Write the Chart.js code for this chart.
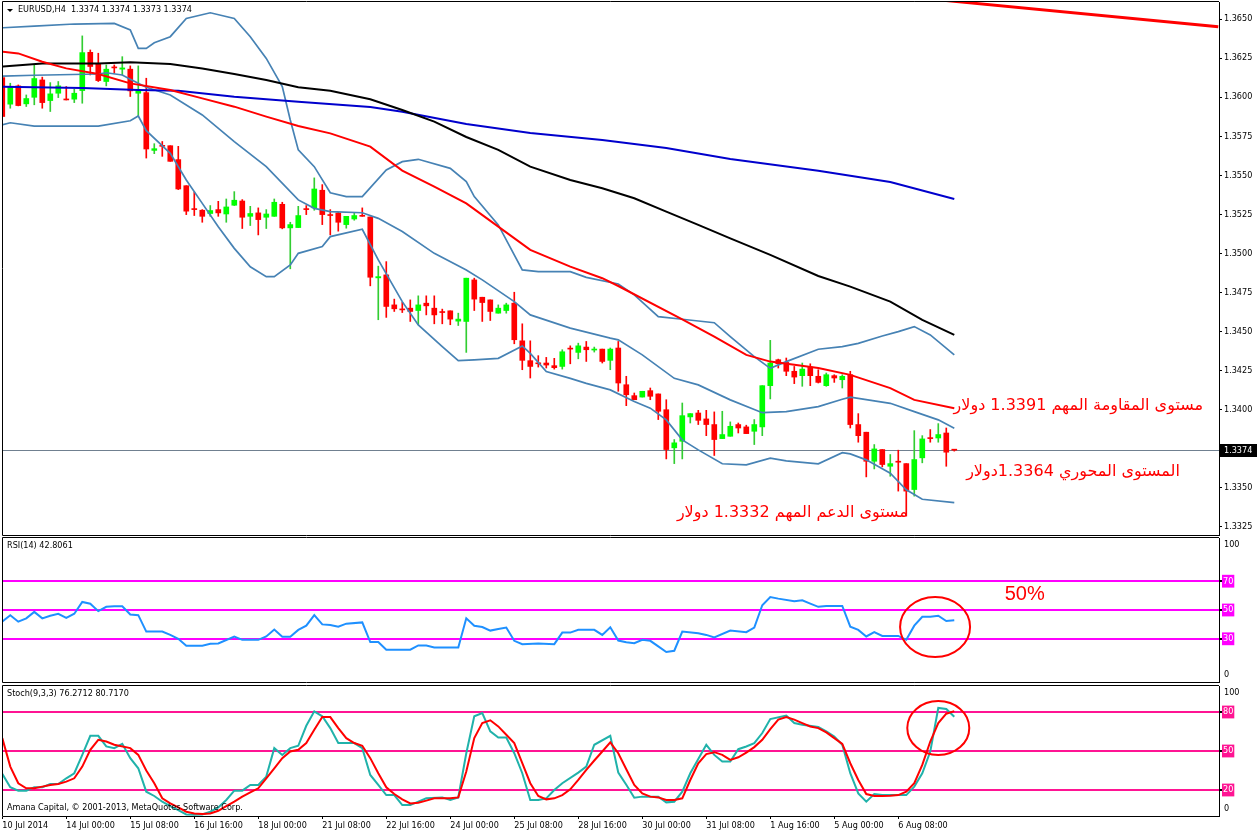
<!DOCTYPE html>
<html><head>
<meta charset="utf-8">
<title>EURUSD H4</title>
<script src="https://cdn.jsdelivr.net/npm/chart.js"></script>
<style>
body { margin: 0; background: #fff; }
#wrap { position: relative; width: 1258px; height: 835px; overflow: hidden; }
canvas { position: absolute; left: 0; }
</style>
</head>
<body>
<div id="wrap">
<canvas id="price" width="1258" height="538" style="top:0;width:1258px;height:538px"></canvas>
<canvas id="rsi" width="1258" height="148" style="top:535px;width:1258px;height:148px"></canvas>
<canvas id="stoch" width="1258" height="152" style="top:683px;width:1258px;height:152px"></canvas>
</div>
<script>
// ---- candles, bar 0 = 10 Jul 2014 16:00, H4 ----
var opens = [1.36125,1.35955,1.36072,1.35957,1.35999,1.36110,1.35978,1.36025,1.35987,1.35987,
1.36042,1.36287,1.36210,1.36100,1.36188,1.36179,1.36179,1.36025,1.36029,1.35659,
1.35689,1.35689,1.35600,1.35433,1.35282,1.35276,1.35255,1.35280,1.35252,1.35308,
1.35335,1.35237,1.35259,1.35231,1.35237,1.35314,1.35163,1.35165,1.35282,1.35291,
1.35404,1.35244,1.35259,1.35184,1.35220,1.35242,1.35233,1.34843,1.34862,1.34670,
1.34640,1.34649,1.34634,1.34681,1.34649,1.34624,1.34632,1.34566,1.34564,1.34830,
1.34719,1.34702,1.34617,1.34634,1.34681,1.34440,1.34313,1.34296,1.34298,1.34281,
1.34276,1.34389,1.34366,1.34400,1.34381,1.34387,1.34315,1.34394,1.34159,1.34089,
1.34080,1.34121,1.34100,1.33999,1.33755,1.33797,1.33953,1.33978,1.33940,1.33904,
1.33814,1.33829,1.33904,1.33889,1.33861,1.33889,1.34153,1.34319,1.34302,1.34245,
1.34217,1.34272,1.34213,1.34153,1.34217,1.34191,1.34223,1.33904,1.33855,1.33669,
1.33744,1.33637,1.33665,1.33654,1.33488,1.33691,1.33816,1.33818,1.33850,1.33740];
var highs = [1.36125,1.36089,1.36078,1.36014,1.36206,1.36128,1.36093,1.36100,1.36068,1.36051,
1.36392,1.36302,1.36281,1.36206,1.36206,1.36259,1.36200,1.36200,1.36121,1.35702,
1.35716,1.35689,1.35685,1.35433,1.35393,1.35280,1.35306,1.35333,1.35348,1.35395,
1.35344,1.35301,1.35291,1.35280,1.35348,1.35327,1.35199,1.35301,1.35306,1.35483,
1.35440,1.35280,1.35263,1.35237,1.35259,1.35291,1.35233,1.34918,1.34947,1.34707,
1.34687,1.34702,1.34728,1.34728,1.34728,1.34643,1.34632,1.34617,1.34841,1.34841,
1.34719,1.34702,1.34670,1.34681,1.34751,1.34549,1.34440,1.34345,1.34334,1.34328,
1.34383,1.34408,1.34425,1.34436,1.34400,1.34387,1.34394,1.34436,1.34213,1.34106,
1.34117,1.34138,1.34100,1.34063,1.33808,1.34042,1.33974,1.33995,1.33995,1.33985,
1.33989,1.33921,1.33914,1.33900,1.33936,1.34153,1.34443,1.34323,1.34330,1.34276,
1.34298,1.34293,1.34255,1.34234,1.34223,1.34223,1.34245,1.33974,1.33855,1.33776,
1.33744,1.33712,1.33740,1.33654,1.33865,1.33833,1.33872,1.33910,1.33882,1.33742];
var lows = [1.35876,1.35929,1.35944,1.35940,1.35951,1.35929,1.35908,1.35997,1.35982,1.35965,
1.35961,1.36142,1.36100,1.36072,1.36153,1.36142,1.36004,1.35876,1.35610,1.35638,
1.35621,1.35589,1.35408,1.35248,1.35242,1.35199,1.35237,1.35237,1.35199,1.35306,
1.35159,1.35178,1.35118,1.35159,1.35237,1.35157,1.34901,1.35165,1.35248,1.35276,
1.35184,1.35118,1.35142,1.35161,1.35212,1.35237,1.34792,1.34575,1.34590,1.34628,
1.34621,1.34564,1.34543,1.34606,1.34549,1.34549,1.34543,1.34538,1.34366,1.34634,
1.34564,1.34570,1.34617,1.34617,1.34421,1.34255,1.34202,1.34272,1.34266,1.34259,
1.34259,1.34293,1.34325,1.34308,1.34368,1.34298,1.34255,1.34117,1.34025,1.34063,
1.34080,1.34063,1.33936,1.33684,1.33654,1.33684,1.33914,1.33904,1.33833,1.33706,
1.33814,1.33829,1.33850,1.33846,1.33776,1.33833,1.34068,1.34266,1.34217,1.34166,
1.34149,1.34153,1.34170,1.34149,1.34174,1.34138,1.33882,1.33791,1.33569,1.33620,
1.33633,1.33573,1.33478,1.33318,1.33446,1.33659,1.33791,1.33791,1.33637,1.33734];
var closes = [1.35876,1.36063,1.35946,1.35991,1.36119,1.35965,1.36021,1.36072,1.35982,1.36025,
1.36285,1.36196,1.36106,1.36179,1.36187,1.36187,1.36040,1.36042,1.35668,1.35670,
1.35685,1.35589,1.35412,1.35270,1.35280,1.35237,1.35274,1.35259,1.35297,1.35340,
1.35231,1.35255,1.35216,1.35252,1.35327,1.35163,1.35184,1.35242,1.35280,1.35412,
1.35248,1.35242,1.35199,1.35237,1.35242,1.35237,1.34847,1.34851,1.34660,1.34645,
1.34638,1.34628,1.34670,1.34664,1.34606,1.34621,1.34579,1.34579,1.34841,1.34707,
1.34685,1.34628,1.34649,1.34670,1.34447,1.34315,1.34276,1.34293,1.34285,1.34268,
1.34370,1.34387,1.34408,1.34383,1.34387,1.34308,1.34387,1.34170,1.34095,1.34063,
1.34117,1.34085,1.33989,1.33744,1.33787,1.33961,1.33974,1.33931,1.33904,1.33808,
1.33840,1.33893,1.33882,1.33846,1.33904,1.34153,1.34298,1.34293,1.34245,1.34208,
1.34259,1.34217,1.34174,1.34223,1.34202,1.34213,1.33904,1.33833,1.33669,1.33748,
1.33648,1.33654,1.33663,1.33478,1.33680,1.33812,1.33814,1.33840,1.33727,1.33740];

// ---- indicator lines, [bar, value] ----
var maRed = [[0,1.36291],[2,1.36280],[5,1.36227],[8,1.36184],[12,1.36148],[16,1.36088],[21,1.36046],[25,1.35992],[29,1.35939],[33,1.35875],[37,1.35815],[41,1.35768],[46,1.35683],[50,1.35530],[54,1.35427],[58,1.35320],[62,1.35171],[66,1.35022],[71,1.34915],[75,1.34841],[77,1.34791],[85,1.34578],[89,1.34467],[93,1.34350],[96,1.34307],[102,1.34266],[106,1.34222],[111,1.34137],[114,1.34062],[119,1.34009]];
var maBlack = [[0,1.36195],[5,1.36216],[12,1.36216],[16,1.36223],[21,1.36212],[25,1.36184],[29,1.36148],[33,1.36110],[37,1.36063],[41,1.36041],[46,1.35986],[50,1.35918],[54,1.35843],[58,1.35745],[62,1.35662],[66,1.35555],[71,1.35470],[75,1.35417],[79,1.35353],[83,1.35267],[87,1.35182],[91,1.35096],[96,1.34990],[102,1.34855],[106,1.34787],[111,1.34691],[115,1.34574],[119,1.34478]];
var maBlue = [[0,1.36067],[10,1.36058],[17,1.36046],[22,1.36041],[29,1.36003],[37,1.35971],[46,1.35937],[50,1.35907],[58,1.35828],[66,1.35770],[75,1.35726],[83,1.35674],[91,1.35604],[102,1.35529],[111,1.35457],[119,1.35348]];
var bbUpper = [[0,1.36444],[4,1.36455],[9,1.36468],[14,1.36472],[16,1.36430],[17,1.36312],[18,1.36312],[19,1.36348],[21,1.36387],[23,1.36504],[26,1.36540],[29,1.36504],[31,1.36387],[33,1.36248],[35,1.36067],[36,1.35854],[37,1.35662],[39,1.35555],[41,1.35388],[43,1.35363],[45,1.35363],[48,1.35534],[50,1.35587],[52,1.35602],[56,1.35544],[58,1.35459],[59,1.35363],[62,1.35182],[65,1.34894],[67,1.34883],[71,1.34883],[73,1.34846],[77,1.34804],[79,1.34734],[82,1.34595],[85,1.34578],[89,1.34556],[91,1.34467],[94,1.34339],[96,1.34264],[98,1.34307],[102,1.34386],[105,1.34403],[107,1.34424],[110,1.34471],[112,1.34499],[114,1.34531],[116,1.34478],[119,1.34350]];
var bbMiddle = [[0,1.36135],[4,1.36140],[12,1.36148],[13,1.36156],[15,1.36142],[16,1.36114],[18,1.36063],[21,1.36014],[25,1.35886],[29,1.35715],[33,1.35555],[37,1.35342],[39,1.35288],[41,1.35267],[45,1.35260],[47,1.35224],[50,1.35140],[54,1.35000],[58,1.34894],[60,1.34830],[64,1.34691],[66,1.34606],[71,1.34521],[76,1.34457],[77,1.34446],[80,1.34350],[84,1.34200],[87,1.34158],[91,1.34062],[95,1.33980],[98,1.33987],[102,1.34019],[105,1.34066],[106,1.34079],[111,1.34040],[114,1.33987],[117,1.33934],[119,1.33880]];
var bbLower = [[0,1.35822],[1,1.35836],[4,1.35815],[12,1.35815],[16,1.35849],[17,1.35879],[18,1.35785],[21,1.35640],[23,1.35470],[25,1.35320],[27,1.35171],[29,1.35032],[31,1.34914],[33,1.34851],[34,1.34851],[36,1.34926],[37,1.35000],[40,1.35043],[41,1.35107],[45,1.35154],[47,1.34958],[50,1.34691],[52,1.34542],[55,1.34403],[57,1.34313],[59,1.34318],[62,1.34328],[65,1.34407],[66,1.34360],[68,1.34243],[71,1.34200],[73,1.34168],[76,1.34126],[79,1.34051],[81,1.34009],[83,1.33934],[85,1.33806],[87,1.33742],[90,1.33653],[93,1.33646],[96,1.33689],[98,1.33671],[102,1.33653],[105,1.33724],[106,1.33716],[108,1.33678],[111,1.33593],[113,1.33486],[115,1.33426],[119,1.33404]];
var trendLine = [[118,1.36618],[152,1.36451]];
var rsi14 = [[0,41.9],[1,46.4],[2,41.9],[3,44.2],[4,48.7],[5,44.2],[6,46.0],[7,47.4],[8,44.6],[9,47.4],[10,55.6],[11,54.4],[12,49.2],[13,52.2],[14,52.6],[15,52.6],[16,46.9],[17,46.4],[18,35.0],[20,35.0],[21,32.7],[22,30.0],[23,25.2],[25,25.2],[26,26.5],[27,26.8],[29,31.6],[30,29.3],[32,29.3],[33,31.6],[34,36.4],[35,31.4],[36,31.4],[37,36.2],[38,39.1],[39,46.4],[40,40.0],[41,39.6],[42,38.4],[43,40.5],[45,41.4],[46,27.7],[47,27.7],[48,22.4],[51,22.4],[52,25.4],[53,25.4],[54,24.0],[57,24.0],[58,44.2],[59,39.1],[60,38.2],[61,35.7],[62,36.8],[63,37.8],[64,28.6],[65,26.3],[67,26.8],[69,26.3],[70,34.3],[71,34.3],[72,36.2],[74,36.2],[75,32.7],[76,38.0],[77,28.8],[78,27.6],[79,27.0],[80,29.3],[81,28.6],[82,24.7],[83,20.8],[84,21.7],[85,35.0],[87,33.9],[88,32.7],[89,30.9],[91,35.7],[93,34.6],[94,37.8],[95,53.3],[96,59.0],[97,57.9],[99,56.0],[100,56.7],[101,54.4],[102,52.2],[103,52.8],[105,52.8],[106,38.4],[107,36.2],[108,31.6],[109,34.6],[110,32.0],[112,32.0],[113,29.3],[114,39.1],[115,45.3],[116,45.3],[117,46.0],[118,42.3],[119,42.8]];
var stochMain = [[0,32.4],[1,22.1],[2,19.5],[3,19.5],[4,22.1],[5,22.1],[6,24.6],[7,24.6],[8,29.0],[9,32.9],[10,47.0],[11,61.7],[12,61.7],[13,53.5],[14,52.2],[15,55.5],[16,44.5],[17,36.7],[18,18.7],[19,15.4],[20,11.0],[21,7.6],[22,4.6],[23,1.2],[24,1.0],[25,1.2],[26,3.3],[27,6.6],[28,12.3],[29,19.5],[30,19.5],[31,23.9],[32,23.9],[33,30.3],[34,52.2],[35,47.0],[36,52.2],[37,54.0],[38,69.4],[39,80.5],[40,76.7],[41,67.6],[42,56.1],[43,56.1],[44,56.1],[45,52.2],[46,31.6],[47,23.9],[48,16.1],[49,16.1],[50,8.4],[51,8.4],[52,11.0],[53,13.6],[55,14.3],[56,12.3],[57,14.3],[58,48.3],[59,76.7],[60,79.2],[61,65.1],[62,60.4],[63,60.4],[64,48.3],[65,32.9],[66,12.3],[67,12.3],[68,13.6],[69,20.0],[70,25.2],[72,33.4],[73,38.0],[74,54.8],[76,61.7],[77,33.4],[78,24.0],[79,14.1],[80,14.9],[82,14.9],[83,10.5],[84,11.0],[85,18.7],[86,32.9],[88,54.8],[89,47.0],[90,41.9],[91,41.9],[92,51.4],[93,53.5],[94,56.1],[95,63.8],[96,74.6],[98,77.2],[99,71.5],[100,70.2],[102,68.4],[103,65.1],[104,61.2],[105,54.8],[106,32.9],[107,17.4],[108,11.0],[109,16.9],[110,16.1],[113,16.1],[114,22.6],[115,32.9],[116,49.6],[117,83.1],[118,82.3],[119,76.3]];
var stochSignal = [[0,59.9],[1,38.0],[2,25.2],[3,21.3],[4,21.3],[5,22.6],[6,23.9],[7,24.6],[8,26.4],[9,29.0],[10,38.0],[11,50.9],[12,58.6],[13,57.3],[14,54.8],[16,52.2],[17,47.0],[18,35.0],[19,25.2],[20,13.6],[21,9.7],[22,6.6],[23,3.3],[24,2.0],[25,1.5],[26,2.0],[27,4.0],[28,7.6],[29,11.0],[30,14.9],[31,18.2],[32,21.3],[33,29.0],[34,36.7],[35,44.5],[36,49.6],[37,50.9],[38,56.1],[39,66.4],[40,76.1],[41,76.1],[42,67.6],[43,59.9],[44,56.1],[45,54.0],[46,44.5],[47,32.9],[48,22.1],[49,16.9],[50,12.8],[51,9.7],[52,10.2],[53,11.8],[54,13.6],[56,13.6],[57,14.3],[58,34.2],[59,59.9],[60,71.5],[61,73.6],[62,68.9],[63,62.5],[64,56.1],[65,40.6],[66,25.2],[67,15.4],[68,12.8],[69,13.6],[70,16.1],[71,20.5],[72,27.7],[73,35.5],[74,42.7],[75,49.6],[76,56.6],[77,48.3],[78,36.0],[79,23.9],[80,17.4],[81,14.9],[82,14.3],[83,12.3],[84,12.3],[85,13.6],[86,27.7],[87,40.6],[88,47.6],[89,49.1],[90,47.0],[91,43.2],[92,45.2],[93,48.8],[94,53.0],[95,58.6],[96,66.9],[97,74.1],[98,76.1],[99,74.1],[100,71.5],[101,68.9],[102,67.6],[103,64.3],[104,59.9],[105,55.5],[106,40.6],[107,27.7],[108,16.9],[109,15.4],[110,15.4],[111,15.6],[112,16.1],[113,18.7],[114,25.2],[115,39.3],[116,57.3],[117,71.5],[118,78.7],[119,80.7]];

// ---- axes ----
var priceTicks = [1.3325,1.3350,1.3375,1.3400,1.3425,1.3450,1.3475,1.3500,1.3525,1.3550,1.3575,1.3600,1.3625,1.3650];
var rsiLevels = [30, 50, 70];
var stochLevels = [20, 50, 80];
var timeTickBars = [0,8,16,24,32,40,48,56,64,72,80,88,96,104,112];
var timeTickLabels = ['10 Jul 2014','14 Jul 00:00','15 Jul 08:00','16 Jul 16:00','18 Jul 00:00','21 Jul 08:00','22 Jul 16:00','24 Jul 00:00','25 Jul 08:00','28 Jul 16:00','30 Jul 00:00','31 Jul 08:00','1 Aug 16:00','5 Aug 00:00','6 Aug 08:00'];
var currentPrice = 1.3374;

// ---- notes drawn on the chart: [bar, value, text] ----
var priceNotes = [
  [150.1, 1.34023, 'مستوى المقاومة المهم 1.3391 دولار'],
  [147.2, 1.33601, 'المستوى المحوري 1.3364دولار'],
  [113.2, 1.33338, 'مستوى الدعم المهم 1.3332 دولار']
];
var rsiCircle = [116.6, 38.2];
var stochCircle = [117.0, 67.7];
var rsiNote = [125.3, 61.1, '50%'];

var FONT = "'DejaVu Sans Condensed','DejaVu Sans',sans-serif";
var xMin = 0.09, xMax = 152.09;

function pts(arr) {
    return arr.map(function(p) { return {x: p[0], y: p[1]}; });
}
function candleColor(ctx) {
    var i = ctx.dataIndex;
    return closes[i] > opens[i] ? '#00ff00' : '#ff0000';
}
function wickColor(ctx) {
    var i = ctx.dataIndex;
    return closes[i] > opens[i] ? '#32cd32' : '#ff0000';
}
function lineSet(data, color, width, order) {
    return {type: 'line', data: pts(data), borderColor: color, borderWidth: width,
        pointRadius: 0, tension: 0, fill: false, order: order};
}
function hiddenX() {
    return {type: 'linear', min: xMin, max: xMax, display: false, offset: false};
}
function rightAxis(extra) {
    var s = {
        position: 'right',
        afterFit: function(scale) {
            scale.width = 39;
            scale.paddingTop = 0;
            scale.paddingBottom = 0;
        },
        grid: {drawOnChartArea: false, drawTicks: true, tickLength: 3, tickColor: '#000'},
        border: {color: '#000'},
        ticks: {color: '#000', font: {family: FONT, size: 9}, padding: 2, autoSkip: false}
    };
    for (var k in extra) s[k] = extra[k];
    return s;
}

var framePlugin = {
    id: 'frame',
    afterDraw: function(chart) {
        var a = chart.chartArea, c = chart.ctx;
        c.save();
        c.strokeStyle = '#000';
        c.lineWidth = 1;
        c.beginPath();
        c.moveTo(a.right, a.top - 0.5);
        c.lineTo(a.left - 0.5, a.top - 0.5);
        c.lineTo(a.left - 0.5, a.bottom + 0.5);
        c.lineTo(a.right, a.bottom + 0.5);
        c.stroke();
        c.restore();
    }
};

function levelAxis(levels, color) {
    return rightAxis({
        min: 0, max: 100,
        afterBuildTicks: function(scale) { scale.ticks = levels.map(function(v) { return {value: v}; }); },
        grid: {drawOnChartArea: true, drawTicks: true, tickLength: 3, tickColor: '#000',
            color: color, lineWidth: 2},
        ticks: {color: '#fff', font: {family: FONT, size: 9}, padding: 1, autoSkip: false,
            showLabelBackdrop: true, backdropColor: color, backdropPadding: {x: 1, y: 1}}
    });
}

function subLabels(chart, title, extra) {
    var c = chart.ctx, a = chart.chartArea, y = chart.scales.y;
    c.save();
    c.font = '9px ' + FONT;
    c.fillStyle = '#000';
    c.textBaseline = 'middle';
    c.textAlign = 'left';
    c.fillText(title, 7, a.top + 8);
    c.fillText('100', a.right + 5, y.getPixelForValue(100) + 7);
    c.fillText('0', a.right + 5, y.getPixelForValue(0) - 7);
    if (extra) extra(c, a);
    c.restore();
}
function ellipseAt(chart, spot, rx, ry) {
    var c = chart.ctx;
    var cx = chart.scales.x.getPixelForValue(spot[0]);
    var cy = chart.scales.y.getPixelForValue(spot[1]);
    c.save();
    c.strokeStyle = '#ff0000';
    c.lineWidth = 2;
    c.beginPath();
    c.ellipse(cx, cy, rx, ry, 0, 0, Math.PI * 2);
    c.stroke();
    c.restore();
}

// ---------- price window ----------
var pricePlugin = {
    id: 'priceExtras',
    beforeDatasetsDraw: function(chart) {
        var c = chart.ctx, a = chart.chartArea;
        var y = Math.round(chart.scales.y.getPixelForValue(currentPrice)) + 0.5;
        c.save();
        c.strokeStyle = '#708090';
        c.lineWidth = 1;
        c.beginPath();
        c.moveTo(a.left, y);
        c.lineTo(a.right, y);
        c.stroke();
        c.restore();
    },
    afterDraw: function(chart) {
        var c = chart.ctx, a = chart.chartArea, xs = chart.scales.x, ys = chart.scales.y;
        c.save();
        // title
        c.fillStyle = '#000';
        c.beginPath();
        c.moveTo(7, 9); c.lineTo(13, 9); c.lineTo(10, 12); c.closePath();
        c.fill();
        c.font = '9px ' + FONT;
        c.textBaseline = 'middle';
        c.textAlign = 'left';
        c.fillText('EURUSD,H4  1.3374 1.3374 1.3373 1.3374', 18, 10);
        // current price box
        var py = Math.round(ys.getPixelForValue(currentPrice));
        c.fillStyle = '#000';
        c.fillRect(a.right + 1, py - 6, 37, 13);
        c.fillStyle = '#fff';
        c.fillText(currentPrice.toFixed(4), a.right + 5, py + 0.5);
        // notes
        c.fillStyle = '#ff0000';
        c.font = '16px "DejaVu Sans", sans-serif';
        c.direction = 'rtl';
        c.textAlign = 'right';
        priceNotes.forEach(function(n) {
            c.fillText(n[2], xs.getPixelForValue(n[0]), ys.getPixelForValue(n[1]));
        });
        c.restore();
    }
};

new Chart(document.getElementById('price'), {
    type: 'bar',
    data: {
        datasets: [
            lineSet(trendLine, '#ff0000', 3, 0),
            lineSet(maRed, '#ff0000', 2, 1),
            lineSet(maBlack, '#000000', 2, 1),
            lineSet(maBlue, '#0000cd', 2, 1),
            lineSet(bbUpper, '#4682b4', 1.7, 2),
            lineSet(bbMiddle, '#4682b4', 1.7, 2),
            lineSet(bbLower, '#4682b4', 1.7, 2),
            {
                type: 'bar', order: 5, grouped: false, barThickness: 5, minBarLength: 1,
                data: opens.map(function(o, i) { return {x: i, y: [o, closes[i]]}; }),
                backgroundColor: candleColor, borderWidth: 0
            },
            {
                type: 'bar', order: 6, grouped: false, barThickness: 1, minBarLength: 1,
                data: opens.map(function(o, i) { return {x: i, y: [lows[i], highs[i]]}; }),
                backgroundColor: wickColor, borderWidth: 0
            }
        ]
    },
    options: {
        responsive: false, animation: false, devicePixelRatio: 1,
        layout: {padding: {left: 3, top: 2, right: 0, bottom: 3}},
        plugins: {legend: {display: false}, tooltip: {enabled: false}},
        scales: {
            x: hiddenX(),
            y: rightAxis({
                min: 1.33197, max: 1.36609,
                afterBuildTicks: function(scale) { scale.ticks = priceTicks.map(function(v) { return {value: v}; }); },
                ticks: {color: '#000', font: {family: FONT, size: 9}, padding: 2, autoSkip: false,
                    callback: function(v) { return Number(v).toFixed(4); }}
            })
        }
    },
    plugins: [framePlugin, pricePlugin]
});

// ---------- RSI window ----------
new Chart(document.getElementById('rsi'), {
    type: 'line',
    data: {datasets: [lineSet(rsi14, '#1e90ff', 2, 0)]},
    options: {
        responsive: false, animation: false, devicePixelRatio: 1,
        layout: {padding: {left: 3, top: 3, right: 0, bottom: 1}},
        plugins: {legend: {display: false}, tooltip: {enabled: false}},
        scales: {x: hiddenX(), y: levelAxis(rsiLevels, '#ff00ff')}
    },
    plugins: [framePlugin, {
        id: 'rsiExtras',
        afterDraw: function(chart) {
            subLabels(chart, 'RSI(14) 42.8061', function(c) {
                c.fillStyle = '#ff0000';
                c.font = '20px "Liberation Sans", Arial, sans-serif';
                c.fillText(rsiNote[2], chart.scales.x.getPixelForValue(rsiNote[0]), chart.scales.y.getPixelForValue(rsiNote[1]));
            });
            ellipseAt(chart, rsiCircle, 35, 30);
        }
    }]
});

// ---------- Stochastic window ----------
new Chart(document.getElementById('stoch'), {
    type: 'line',
    data: {datasets: [
        lineSet(stochSignal, '#ff0000', 2, 0),
        lineSet(stochMain, '#20b2aa', 2, 1)
    ]},
    options: {
        responsive: false, animation: false, devicePixelRatio: 1,
        layout: {padding: {left: 3, top: 3, right: 0, bottom: 0}},
        plugins: {legend: {display: false}, tooltip: {enabled: false}},
        scales: {
            x: {
                type: 'linear', min: xMin, max: xMax, offset: false,
                afterFit: function(scale) {
                    scale.height = 19;
                    scale.paddingLeft = 0;
                    scale.paddingRight = 0;
                },
                afterBuildTicks: function(scale) { scale.ticks = timeTickBars.map(function(v) { return {value: v}; }); },
                grid: {drawOnChartArea: false, drawTicks: true, tickLength: 3, tickColor: '#000'},
                border: {color: '#000'},
                ticks: {color: '#000', font: {family: FONT, size: 9}, padding: 1, autoSkip: false,
                    maxRotation: 0, align: 'start',
                    callback: function(v) { return timeTickLabels[timeTickBars.indexOf(v)]; }}
            },
            y: levelAxis(stochLevels, '#ff1493')
        }
    },
    plugins: [framePlugin, {
        id: 'stochExtras',
        afterDraw: function(chart) {
            subLabels(chart, 'Stoch(9,3,3) 76.2712 80.7170', function(c, a) {
                c.fillText('Amana Capital, © 2001-2013, MetaQuotes Software Corp.', 7, a.bottom - 8);
            });
            ellipseAt(chart, stochCircle, 31, 27);
        }
    }]
});
</script>
</body></html>
